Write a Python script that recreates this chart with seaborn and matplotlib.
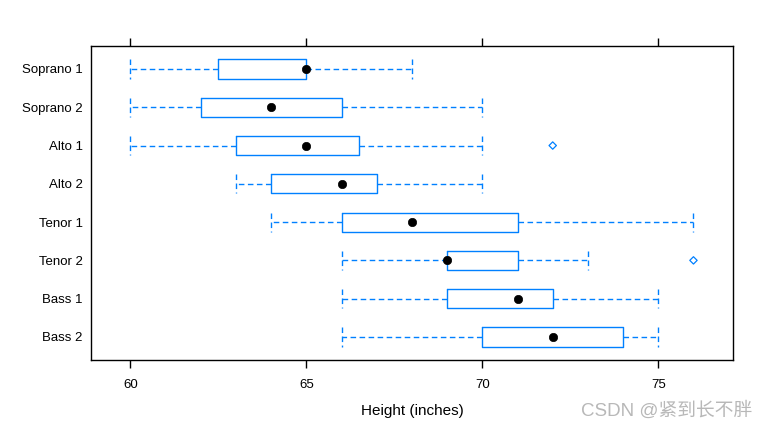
import matplotlib
matplotlib.use("Agg")
import matplotlib.pyplot as plt
import seaborn as sns
import pandas as pd

voice_parts = ["Soprano 1", "Soprano 2", "Alto 1", "Alto 2",
               "Tenor 1", "Tenor 2", "Bass 1", "Bass 2"]
whisker_lo = [60, 60, 60, 63, 64, 66, 66, 66]
q1 = [62.5, 62, 63, 64, 66, 69, 69, 70]
medians = [65, 64, 65, 66, 68, 69, 71, 72]
q3 = [65, 66, 66.5, 67, 71, 71, 72, 74]
whisker_hi = [68, 70, 70, 70, 76, 73, 75, 75]
outlier_parts = ["Alto 1", "Tenor 2"]
outlier_vals = [72, 76]
x_ticks = [60, 65, 70, 75]

rows = []
for p, a, b, c, d, e in zip(voice_parts, whisker_lo, q1, medians, q3, whisker_hi):
    for v in (a, b, c, d, e):
        rows.append({"part": p, "height": v})
df = pd.DataFrame(rows)
med_df = pd.DataFrame({"part": voice_parts, "height": medians})
out_df = pd.DataFrame({"part": outlier_parts, "height": outlier_vals})

sns.set_theme(style="white")
plt.rcParams["font.family"] = ["Liberation Sans", "Noto Sans CJK SC", "DejaVu Sans"]

blue = "#0080ff"
fig = plt.figure(figsize=(7.65, 4.3), dpi=100)
ax = fig.add_axes([0.119, 0.163, 0.839, 0.730])

sns.boxplot(data=df, x="height", y="part", order=voice_parts, orient="h",
            whis=(0, 100), width=0.5, fill=False, color=blue, linewidth=1,
            showfliers=False,
            boxprops=dict(color=blue, linewidth=1),
            whiskerprops=dict(color=blue, linestyle=(0, (4, 2.5)), linewidth=1),
            capprops=dict(color=blue, linestyle=(0, (4, 2.5)), linewidth=1),
            medianprops=dict(linewidth=0, alpha=0),
            capwidths=0.5, ax=ax)

sns.scatterplot(data=med_df, x="height", y="part", color="black", s=36,
                marker="o", edgecolor="black", linewidth=0.5, ax=ax, zorder=5)
sns.scatterplot(data=out_df, x="height", y="part", marker="D", s=14,
                facecolors="none", edgecolor=blue, linewidth=0.9, ax=ax, zorder=5)

ax.set_xlim(58.88, 77.12)
ax.set_ylim(7.6, -0.6)
ax.set_xticks(x_ticks)
ax.set_xticklabels([str(t) for t in x_ticks])
ax.tick_params(axis="x", which="both", bottom=True, top=True, direction="out",
               length=6, width=1, color="black", labelsize=9.5, pad=8,
               labelcolor="black")
ax.tick_params(axis="y", left=False, length=0, labelsize=9.5, pad=6,
               labelcolor="black")
for s in ax.spines.values():
    s.set_visible(True)
    s.set_color("black")
    s.set_linewidth(1)
ax.set_xlabel("Height (inches)", fontsize=11, labelpad=9, color="black")
ax.set_ylabel("")
ax.grid(False)

fig.text(0.983, 0.045, "CSDN @紧到长不胖", ha="right", va="center", fontsize=13.5,
         color="#b8b8b8")

fig.savefig("out.png", dpi=100)
